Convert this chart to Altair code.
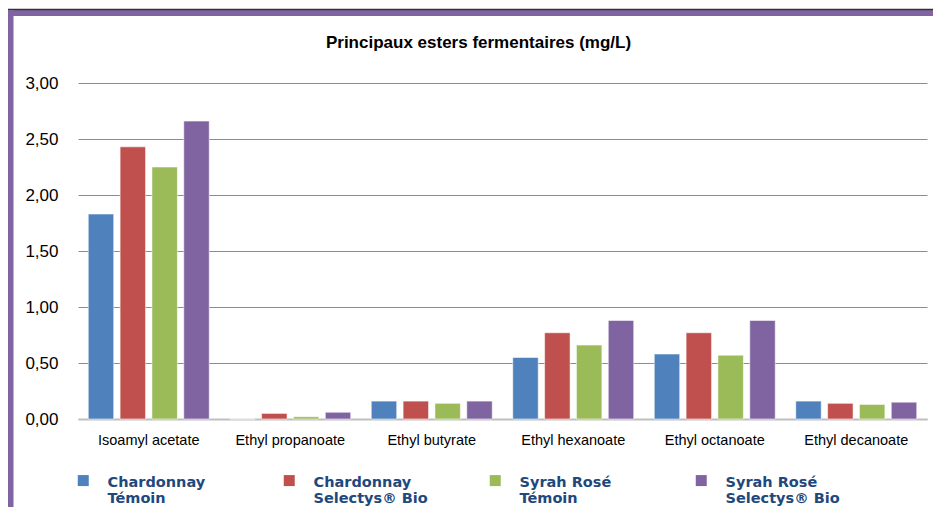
import altair as alt
import pandas as pd

categories = ["Isoamyl acetate", "Ethyl propanoate", "Ethyl butyrate",
              "Ethyl hexanoate", "Ethyl octanoate", "Ethyl decanoate"]
series = ["Chardonnay|Témoin", "Chardonnay|Selectys® Bio",
          "Syrah Rosé|Témoin", "Syrah Rosé|Selectys® Bio"]
colors = ["#4F81BD", "#C0504D", "#9BBB59", "#8064A2"]

chardonnay_temoin = [1.83, 0.00, 0.16, 0.55, 0.58, 0.16]
chardonnay_bio = [2.43, 0.05, 0.16, 0.77, 0.77, 0.14]
syrah_temoin = [2.25, 0.02, 0.14, 0.66, 0.57, 0.13]
syrah_bio = [2.66, 0.06, 0.16, 0.88, 0.88, 0.15]

rows = []
for s, vals in zip(series, [chardonnay_temoin, chardonnay_bio, syrah_temoin, syrah_bio]):
    for c, v in zip(categories, vals):
        rows.append({"ester": c, "serie": s, "valeur": v})
df = pd.DataFrame(rows)

bars = alt.Chart(df).mark_bar(stroke="white", strokeOpacity=0.55, strokeWidth=1).encode(
    x=alt.X("ester:N", sort=categories, title=None,
            scale=alt.Scale(paddingInner=0.145, paddingOuter=0.0725),
            axis=alt.Axis(labelAngle=0, ticks=False, labelPadding=14,
                          labelFont="Liberation Sans", labelFontSize=14.5,
                          labelColor="#000000", domainColor="#BFBFBF", domainWidth=2)),
    xOffset=alt.XOffset("serie:N", sort=series,
                        scale=alt.Scale(domain=series, paddingInner=0.2, paddingOuter=0)),
    y=alt.Y("valeur:Q", title=None,
            scale=alt.Scale(domain=[0, 3]),
            axis=alt.Axis(values=[0, 0.5, 1, 1.5, 2, 2.5, 3], ticks=False, domain=False,
                          labelPadding=20, labelFont="Liberation Sans", labelFontSize=17,
                          labelColor="#000000", gridColor="#8C8C8C", gridWidth=1,
                          labelExpr="replace(format(datum.value, '.2f'), '.', ',')")),
    color=alt.Color("serie:N", sort=series,
                    scale=alt.Scale(domain=series, range=colors),
                    legend=alt.Legend(title=None, orient="none", legendX=-2, legendY=385,
                                      direction="horizontal", columns=4,
                                      gridAlign="all", columnPadding=60, padding=0,
                                      symbolType="M-1,-0.1H1V1.9H-1Z",
                                      symbolSize=121,
                                      symbolStrokeWidth=0, symbolOffset=0,
                                      labelOffset=17, labelFont="DejaVu Sans",
                                      labelFontWeight="bold", labelFontSize=14.5,
                                      labelColor="#1F497D", labelLimit=200,
                                      labelBaseline="top",
                                      labelExpr="split(datum.label, '|')")),
)

frame_df = pd.DataFrame({"a": [0]})
top_dark = alt.Chart(frame_df).mark_rule(color="#333333", strokeWidth=1.5).encode(
    x=alt.value(-70), x2=alt.value(870), y=alt.value(-73.5))
top_band = alt.Chart(frame_df).mark_rule(color="#8064A2", strokeWidth=6).encode(
    x=alt.value(-70), x2=alt.value(870), y=alt.value(-70))
left_band = alt.Chart(frame_df).mark_rule(color="#8064A2", strokeWidth=5.5).encode(
    x=alt.value(-67.25), y=alt.value(-73), y2=alt.value(440))

chart = alt.layer(bars, top_band, top_dark, left_band).properties(
    width=849, height=336,
    autosize=alt.AutoSizeParams(type="none"),
    padding={"left": 70, "top": 75, "right": 6, "bottom": 88},
    title=alt.Title("Principaux esters fermentaires (mg/L)", font="Liberation Sans",
                    fontSize=17, fontWeight="bold", color="#000000",
                    anchor="middle", dx=-24, offset=-45, frame="group"),
).configure_view(stroke=None)

chart.save("out.html", embed_options={"renderer": "svg", "actions": False})
